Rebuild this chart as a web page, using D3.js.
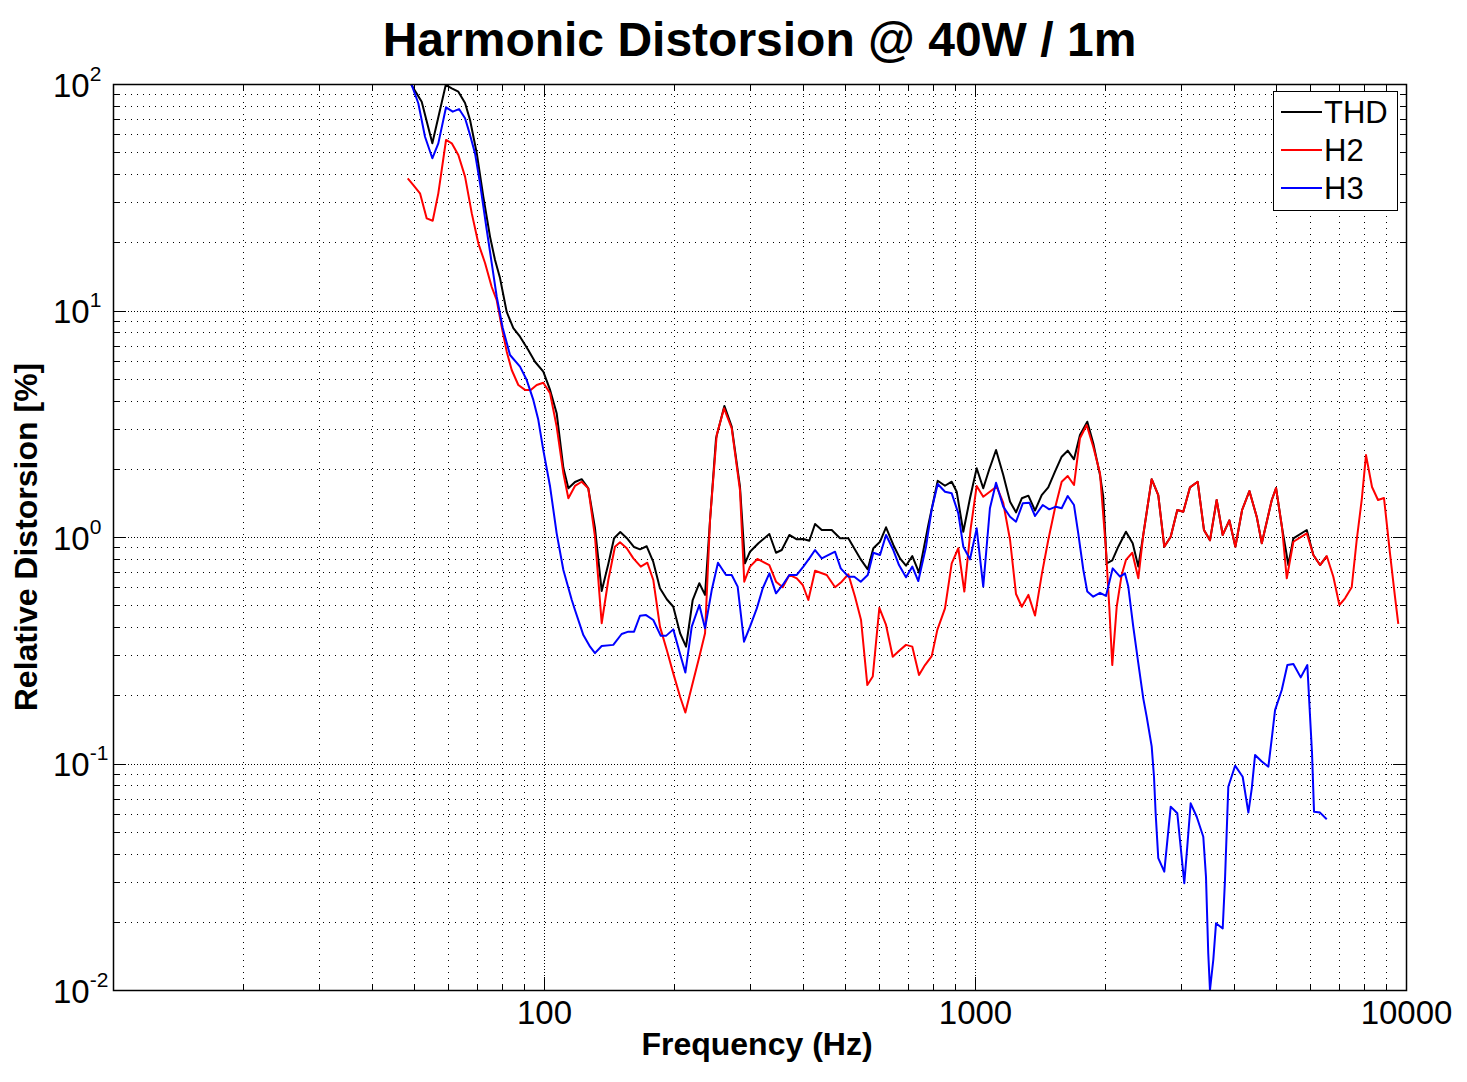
<!DOCTYPE html>
<html>
<head>
<meta charset="utf-8">
<script src="https://cdn.jsdelivr.net/npm/d3@7/dist/d3.min.js"></script>
<style>
  html, body { margin: 0; padding: 0; background: #fff; }
  svg { display: block; }
  text { font-family: "Liberation Sans", Arial, Helvetica, sans-serif; fill: #000; }
</style>
</head>
<body>
<svg id="chart" width="1467" height="1082"></svg>
<script>
// ---------------- DATA ----------------
const chartTitle = "Harmonic Distorsion @ 40W / 1m";
const xLabel = "Frequency (Hz)";
const yLabel = "Relative Distorsion [%]";
const seriesNames = ["THD", "H2", "H3"];
const seriesColors = ["#000000", "#ff0000", "#0000ff"];

const xDomain = [10, 10000];
const yDomain = [0.01, 100];
const xMajorTicks = [10, 100, 1000, 10000];
const xTickLabels = ["", "100", "1000", "10000"];
const yMajorTicks = [0.01, 0.1, 1, 10, 100];
const yTickExponents = ["-2", "-1", "0", "1", "2"];

// THD: [frequency Hz, distortion %]
const thd = [
[48.35,105],[52.03,83.5],[55.07,54.7],[59.16,99.0],[61.09,95.7],[63.28,92.5],[65.59,82.4],[67.36,69.3],[69.81,49.6],[72.31,31.8],
[74.95,21.2],[76.98,16.7],[79.06,13.9],[81.94,9.85],[84.89,8.35],[87.98,7.66],[91.93,6.69],[95.31,5.94],[99.63,5.37],[103.3,4.46],
[107.0,3.52],[110.9,2.02],[113.9,1.64],[118.0,1.75],[122.3,1.80],[126.7,1.64],[131.3,1.096],[136.1,0.578],[141.0,0.760],[145.4,0.987],
[150.3,1.052],[156.2,0.982],[161.8,0.903],[167.0,0.882],[173.1,0.910],[179.3,0.776],[185.8,0.594],[192.7,0.531],[199.5,0.492],[206.9,0.376],
[213.6,0.328],[221.3,0.527],[229.3,0.625],[236.4,0.555],[242.8,1.189],[250.7,2.73],[262.1,3.79],[272.6,3.07],[284.9,1.67],[292.6,0.765],
[300.6,0.861],[314.4,0.938],[333.3,1.031],[345.4,0.852],[356.1,0.876],[370.9,1.021],[385.9,0.977],[399.7,0.980],[412.7,0.963],[425.5,1.141],
[441.0,1.074],[465.2,1.074],[486.3,0.987],[508.3,0.987],[541.1,0.805],[563.8,0.720],[580.9,0.892],[602.1,0.953],[621.7,1.104],[646.4,0.922],
[669.9,0.805],[691.7,0.747],[715.4,0.824],[741.5,0.696],[779.3,1.130],[819.4,1.772],[851.9,1.684],[883.0,1.754],[906.9,1.585],[939.4,1.055],
[973.6,1.482],[1009,2.011],[1045,1.641],[1078,1.976],[1119,2.422],[1163,1.878],[1206,1.432],[1245,1.285],[1284,1.482],[1330,1.522],
[1378,1.309],[1428,1.532],[1479,1.657],[1533,1.942],[1589,2.262],[1641,2.405],[1697,2.203],[1752,2.820],[1822,3.229],[1881,2.593],
[1950,1.878],[1984,1.506],[2021,0.765],[2082,0.788],[2150,0.906],[2240,1.055],[2322,0.938],[2393,0.740],[2457,1.021],[2570,1.80],
[2662,1.532],[2749,0.906],[2845,1.003],[2947,1.316],[3043,1.293],[3154,1.657],[3286,1.754],[3398,1.074],[3509,0.967],[3637,1.457],
[3756,1.021],[3892,1.185],[4019,0.906],[4166,1.316],[4332,1.596],[4506,1.225],[4628,0.938],[4753,1.168],[4882,1.457],[4995,1.645],
[5158,1.096],[5334,0.752],[5479,0.987],[5885,1.074],[6096,0.833],[6318,0.752],[6548,0.824]
];

// H2: [frequency Hz, distortion %]
const h2 = [
[48.29,38.3],[49.76,35.8],[51.56,32.9],[53.44,25.5],[55.18,24.9],[56.86,32.9],[59.25,56.6],[61.09,54.7],[63.28,48.6],[65.59,39.0],
[67.97,26.9],[70.41,19.8],[72.98,16.2],[75.63,12.7],[77.68,11.1],[79.77,8.48],[81.94,6.58],[84.16,5.46],[87.18,4.69],[90.36,4.46],
[93.15,4.46],[96.19,4.69],[99.63,4.80],[103.3,4.31],[107.0,3.07],[110.9,1.91],[113.9,1.482],[118.0,1.68],[122.3,1.754],[126.7,1.64],
[131.3,1.003],[136.1,0.416],[141.0,0.646],[146.1,0.906],[150.1,0.948],[155.6,0.892],[161.2,0.805],[167.7,0.740],[173.7,0.770],[179.3,0.646],
[185.8,0.402],[192.7,0.317],[199.5,0.250],[206.9,0.197],[212.8,0.168],[220.2,0.218],[229.3,0.296],[236.4,0.376],[242.8,1.189],[251.6,2.82],
[261.7,3.70],[272.6,3.02],[284.9,1.61],[291.5,0.635],[300.6,0.740],[312.7,0.800],[333.3,0.752],[345.4,0.635],[358.0,0.600],[370.9,0.680],
[385.9,0.657],[398.4,0.614],[410.5,0.527],[425.5,0.710],[452.9,0.680],[473.5,0.600],[490.7,0.635],[508.3,0.685],[526.8,0.545],[544.0,0.430],
[562.6,0.222],[579.1,0.242],[599.9,0.487],[621.7,0.409],[644.3,0.296],[669.9,0.317],[691.7,0.334],[715.4,0.328],[741.5,0.246],[765.6,0.272],
[793.5,0.298],[817.7,0.389],[851.9,0.484],[883.0,0.765],[914.7,0.892],[944.5,0.574],[977.3,1.092],[1009,1.68],[1045,1.506],[1123,1.67],
[1163,1.413],[1206,0.970],[1245,0.560],[1284,0.492],[1330,0.555],[1378,0.450],[1428,0.680],[1479,0.970],[1533,1.339],[1589,1.754],
[1641,1.859],[1697,1.696],[1752,2.73],[1816,3.12],[1881,2.504],[1950,1.91],[2013,0.876],[2049,0.492],[2082,0.272],[2132,0.492],
[2189,0.680],[2240,0.792],[2317,0.852],[2393,0.657],[2457,1.021],[2570,1.80],[2662,1.532],[2749,0.906],[2845,1.003],[2947,1.316],
[3043,1.293],[3154,1.657],[3286,1.754],[3398,1.074],[3509,0.967],[3637,1.457],[3756,1.021],[3892,1.185],[4019,0.906],[4166,1.316],
[4332,1.596],[4506,1.225],[4628,0.938],[4753,1.168],[4882,1.457],[4995,1.645],[5158,1.096],[5289,0.657],[5479,0.953],[5885,1.038],
[6096,0.833],[6318,0.752],[6548,0.824],[6783,0.668],[7005,0.501],[7221,0.536],[7482,0.600],[7685,0.970],[7893,1.457],[8076,2.30],
[8340,1.663],[8611,1.457],[8891,1.486],[9180,0.847],[9428,0.545],[9596,0.413]
];

// H3: [frequency Hz, distortion %]
const h3 = [
[48.35,110],[51.09,82.2],[52.96,58.5],[55.07,47.0],[56.86,54.7],[59.25,78.9],[61.41,75.5],[63.51,77.5],[65.59,70.6],[67.36,59.6],
[69.18,49.4],[71.05,36.4],[73.64,22.7],[75.63,16.2],[77.68,11.5],[80.21,8.37],[83.40,6.36],[87.98,5.65],[91.18,4.93],[94.45,4.03],
[97.00,3.29],[99.63,2.42],[103.3,1.67],[107.0,1.038],[110.9,0.715],[116.0,0.527],[118.0,0.476],[123.4,0.369],[127.9,0.328],[131.3,0.307],
[136.1,0.330],[144.8,0.334],[151.4,0.373],[156.9,0.382],[161.8,0.382],[167.0,0.449],[172.5,0.452],[179.3,0.430],[186.6,0.366],[191.9,0.366],
[199.5,0.391],[206.1,0.312],[212.8,0.252],[220.2,0.402],[229.3,0.501],[236.4,0.395],[245.0,0.583],[253.3,0.770],[264.4,0.680],[272.6,0.680],
[281.4,0.604],[291.1,0.345],[300.6,0.402],[311.7,0.484],[321.8,0.594],[333.3,0.691],[345.4,0.564],[358.0,0.614],[370.9,0.680],[385.9,0.680],
[399.7,0.740],[412.7,0.805],[425.5,0.876],[441.0,0.805],[473.5,0.861],[488.1,0.727],[508.3,0.668],[524.8,0.668],[543.1,0.635],[563.8,0.680],
[580.9,0.852],[602.1,0.833],[621.7,1.021],[646.4,0.876],[666.3,0.752],[691.7,0.664],[715.4,0.740],[738.7,0.639],[769.7,0.906],[793.5,1.325],
[819.4,1.714],[851.9,1.585],[883.0,1.559],[914.7,1.272],[939.4,0.906],[973.6,0.797],[1009,1.092],[1045,0.604],[1083,1.339],[1119,1.737],
[1163,1.361],[1206,1.229],[1245,1.168],[1291,1.409],[1337,1.418],[1378,1.238],[1436,1.384],[1487,1.325],[1541,1.361],[1589,1.339],
[1641,1.517],[1697,1.384],[1736,1.038],[1784,0.715],[1822,0.574],[1881,0.545],[1950,0.567],[2013,0.549],[2087,0.727],[2170,0.668],
[2228,0.691],[2268,0.604],[2329,0.402],[2393,0.277],[2457,0.194],[2502,0.161],[2570,0.119],[2602,0.0874],[2625,0.0603],[2662,0.0382],
[2749,0.0333],[2845,0.0645],[2947,0.0603],[2989,0.0460],[3059,0.0296],[3108,0.0429],[3165,0.0667],[3269,0.0582],[3386,0.0475],[3435,0.0316],
[3477,0.0145],[3509,0.0100],[3572,0.0136],[3624,0.0197],[3756,0.0187],[3802,0.0306],[3870,0.0790],[4013,0.0978],[4179,0.0874],[4308,0.0607],
[4387,0.0777],[4465,0.109],[4628,0.102],[4794,0.0968],[4882,0.129],[4968,0.172],[5149,0.211],[5306,0.272],[5479,0.275],[5699,0.240],
[5903,0.272],[5967,0.184],[6053,0.111],[6118,0.0613],[6318,0.0607],[6548,0.0567]
];

// ---------------- LAYOUT ----------------
const W = 1467, H = 1082;
const plot = { left: 113, right: 1406, top: 84, bottom: 990 };
const font = '"Liberation Sans", Arial, Helvetica, sans-serif';

const svg = d3.select("#chart");
svg.append("rect").attr("width", W).attr("height", H).attr("fill", "#fff");

const x = d3.scaleLog().domain(xDomain).range([plot.left, plot.right]);
const y = d3.scaleLog().domain(yDomain).range([plot.bottom, plot.top]);

const xAll = x.ticks();
const yAll = y.ticks();
const isMajor = v => Math.abs(Math.log10(v) - Math.round(Math.log10(v))) < 1e-9;
const xMinor = xAll.filter(v => !isMajor(v));
const yMinor = yAll.filter(v => !isMajor(v));

// ---- grid ----
const grid = svg.append("g").attr("stroke", "#000").attr("stroke-width", 1).attr("shape-rendering", "crispEdges");
grid.selectAll(".gxm").data(xMinor).join("line")
  .attr("x1", d => Math.round(x(d)) + 0.5).attr("x2", d => Math.round(x(d)) + 0.5)
  .attr("y1", plot.top).attr("y2", plot.bottom).attr("stroke-dasharray", "1,5");
grid.selectAll(".gxM").data(xMajorTicks.filter(v => v > xDomain[0] && v < xDomain[1])).join("line")
  .attr("x1", d => Math.round(x(d)) + 0.5).attr("x2", d => Math.round(x(d)) + 0.5)
  .attr("y1", plot.top).attr("y2", plot.bottom).attr("stroke-dasharray", "1,2");
grid.selectAll(".gym").data(yMinor).join("line")
  .attr("y1", d => Math.round(y(d)) + 0.5).attr("y2", d => Math.round(y(d)) + 0.5)
  .attr("x1", plot.left).attr("x2", plot.right).attr("stroke-dasharray", "1,5");
grid.selectAll(".gyM").data(yMajorTicks.filter(v => v > yDomain[0] && v < yDomain[1])).join("line")
  .attr("y1", d => Math.round(y(d)) + 0.5).attr("y2", d => Math.round(y(d)) + 0.5)
  .attr("x1", plot.left).attr("x2", plot.right).attr("stroke-dasharray", "1,2");

// ---- lines ----
svg.append("clipPath").attr("id", "clip").append("rect")
  .attr("x", plot.left).attr("y", plot.top)
  .attr("width", plot.right - plot.left).attr("height", plot.bottom - plot.top);

const line = d3.line().x(d => x(d[0])).y(d => y(d[1]));
const seriesData = [thd, h2, h3];
const lines = svg.append("g").attr("clip-path", "url(#clip)");
seriesData.forEach((s, i) => {
  lines.append("path").datum(s).attr("d", line)
    .attr("fill", "none").attr("stroke", seriesColors[i])
    .attr("stroke-width", 2).attr("stroke-linejoin", "round");
});

// ---- axes (ticks inward on all sides) ----
function styleAxis(g) { g.select(".domain").remove(); g.selectAll("line").attr("stroke", "#000").attr("shape-rendering", "crispEdges"); }
const MAJ = 13, MIN = 6;

// bottom
svg.append("g").attr("transform", `translate(0,${plot.bottom})`)
  .call(d3.axisBottom(x).tickValues(xMinor).tickSize(-MIN).tickSizeOuter(0).tickFormat(""))
  .call(styleAxis);
const xb = svg.append("g").attr("transform", `translate(0,${plot.bottom})`)
  .call(d3.axisBottom(x).tickValues(xMajorTicks).tickSize(-MAJ).tickSizeOuter(0)
        .tickFormat((d, i) => xTickLabels[i]))
  .call(styleAxis);
xb.selectAll("text").attr("y", 34).attr("dy", null)
  .attr("font-size", 33).attr("font-family", font).attr("fill", "#000");
// top
svg.append("g").attr("transform", `translate(0,${plot.top})`)
  .call(d3.axisTop(x).tickValues(xMinor).tickSize(-MIN).tickSizeOuter(0).tickFormat("")).call(styleAxis);
svg.append("g").attr("transform", `translate(0,${plot.top})`)
  .call(d3.axisTop(x).tickValues(xMajorTicks).tickSize(-MAJ).tickSizeOuter(0).tickFormat("")).call(styleAxis);
// left
svg.append("g").attr("transform", `translate(${plot.left},0)`)
  .call(d3.axisLeft(y).tickValues(yMinor).tickSize(-MIN).tickSizeOuter(0).tickFormat("")).call(styleAxis);
const yl = svg.append("g").attr("transform", `translate(${plot.left},0)`)
  .call(d3.axisLeft(y).tickValues(yMajorTicks).tickSize(-MAJ).tickSizeOuter(0).tickFormat(""))
  .call(styleAxis);
yl.selectAll(".tick").each(function(d, i) {
  const t = d3.select(this).append("text")
    .attr("x", 53 - plot.left).attr("y", 12).attr("text-anchor", "start")
    .attr("font-family", font).attr("font-size", 33).attr("fill", "#000");
  t.append("tspan").text("10");
  t.append("tspan").attr("dy", -16).attr("font-size", 21).text(yTickExponents[i]);
});
// right
svg.append("g").attr("transform", `translate(${plot.right},0)`)
  .call(d3.axisRight(y).tickValues(yMinor).tickSize(-MIN).tickSizeOuter(0).tickFormat("")).call(styleAxis);
svg.append("g").attr("transform", `translate(${plot.right},0)`)
  .call(d3.axisRight(y).tickValues(yMajorTicks).tickSize(-MAJ).tickSizeOuter(0).tickFormat("")).call(styleAxis);

// frame
svg.append("rect").attr("x", plot.left + 0.5).attr("y", plot.top + 0.5)
  .attr("width", plot.right - plot.left).attr("height", plot.bottom - plot.top)
  .attr("fill", "none").attr("stroke", "#000").attr("stroke-width", 1.5);

// ---- titles ----
svg.append("text").attr("x", (plot.left + plot.right) / 2).attr("y", 56)
  .attr("text-anchor", "middle").attr("font-weight", "bold").attr("font-size", 48)
  .attr("font-family", font).text(chartTitle);
svg.append("text").attr("x", 757).attr("y", 1055)
  .attr("text-anchor", "middle").attr("font-weight", "bold").attr("font-size", 32)
  .attr("font-family", font).text(xLabel);
svg.append("text").attr("transform", `translate(37,${(plot.top + plot.bottom) / 2}) rotate(-90)`)
  .attr("text-anchor", "middle").attr("font-weight", "bold").attr("font-size", 32)
  .attr("font-family", font).text(yLabel);

// ---- legend ----
const lg = svg.append("g");
lg.append("rect").attr("x", 1273.5).attr("y", 91.5).attr("width", 124).attr("height", 119)
  .attr("fill", "#fff").attr("stroke", "#000").attr("stroke-width", 1);
seriesNames.forEach((n, i) => {
  const yy = 112 + i * 38;
  lg.append("line").attr("x1", 1281).attr("x2", 1322).attr("y1", yy).attr("y2", yy)
    .attr("stroke", seriesColors[i]).attr("stroke-width", 2);
  lg.append("text").attr("x", 1324).attr("y", yy + 11).attr("font-size", 31)
    .attr("font-family", font).text(n);
});
</script>
</body>
</html>
